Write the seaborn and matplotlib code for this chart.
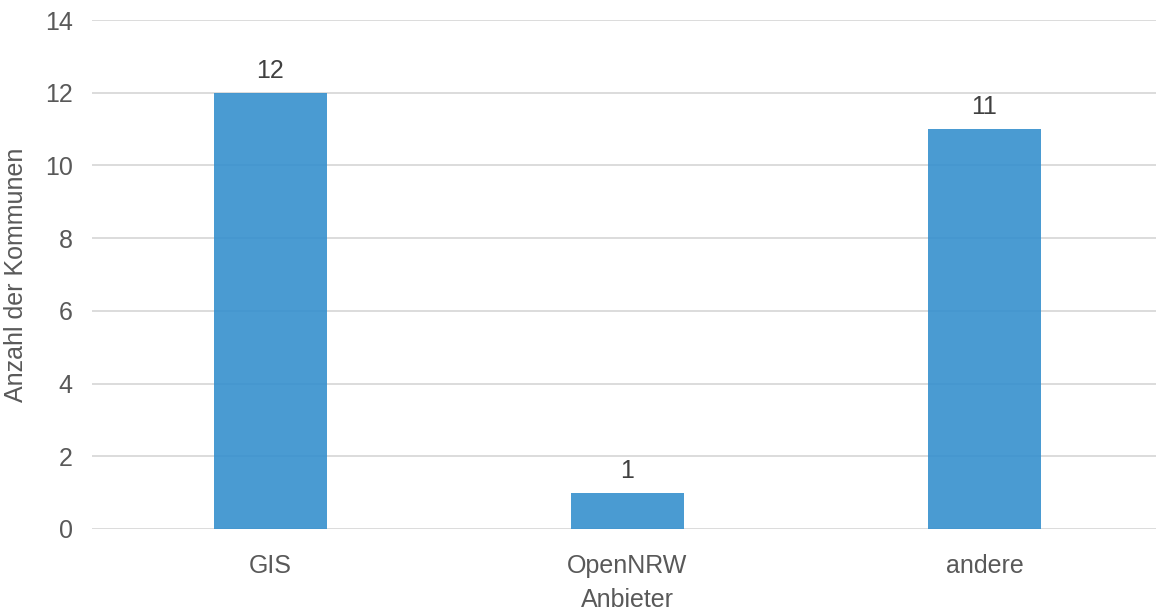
import matplotlib
matplotlib.use("Agg")
import matplotlib.pyplot as plt
import seaborn as sns
import pandas as pd

# Anbieter und Anzahl der Kommunen
anbieter = ["GIS", "OpenNRW", "andere"]
anzahl = [12, 1, 11]
y_ticks = [0, 2, 4, 6, 8, 10, 12, 14]

df = pd.DataFrame({"Anbieter": anbieter, "Anzahl": anzahl})

sns.set_theme(style="white")
plt.rcParams["font.family"] = ["Liberation Sans", "DejaVu Sans"]

FS = 18

fig = plt.figure(figsize=(11.56, 6.11), dpi=100)
ax = fig.add_axes([92 / 1156, (611 - 529) / 611, (1163 - 92) / 1156, 509 / 611])

sns.barplot(data=df, x="Anbieter", y="Anzahl", color="#3690ce", alpha=0.9,
            width=0.314, ax=ax, zorder=3, saturation=1, edgecolor="none")

ax.set_xlim(-0.5, len(anbieter) - 0.5)
ax.set_ylim(0, 14)
ax.set_yticks(y_ticks)
ax.yaxis.grid(True, color="#d9d9d9", linewidth=1.3, zorder=1)
ax.set_axisbelow(True)
for s in ax.spines.values():
    s.set_visible(False)
ax.tick_params(axis="both", length=0, labelsize=FS, colors="#595959")
ax.tick_params(axis="y", pad=14)
ax.tick_params(axis="x", pad=18)

for i, v in enumerate(anzahl):
    ax.annotate(str(v), (i, v), xytext=(0, 7), textcoords="offset points",
                ha="center", va="bottom", fontsize=FS, color="#404040")

ax.set_xlabel("Anbieter", fontsize=FS, color="#595959", labelpad=7)
ax.set_ylabel("Anzahl der Kommunen", fontsize=FS, color="#595959", labelpad=12)

fig.savefig("out.png", dpi=100)
